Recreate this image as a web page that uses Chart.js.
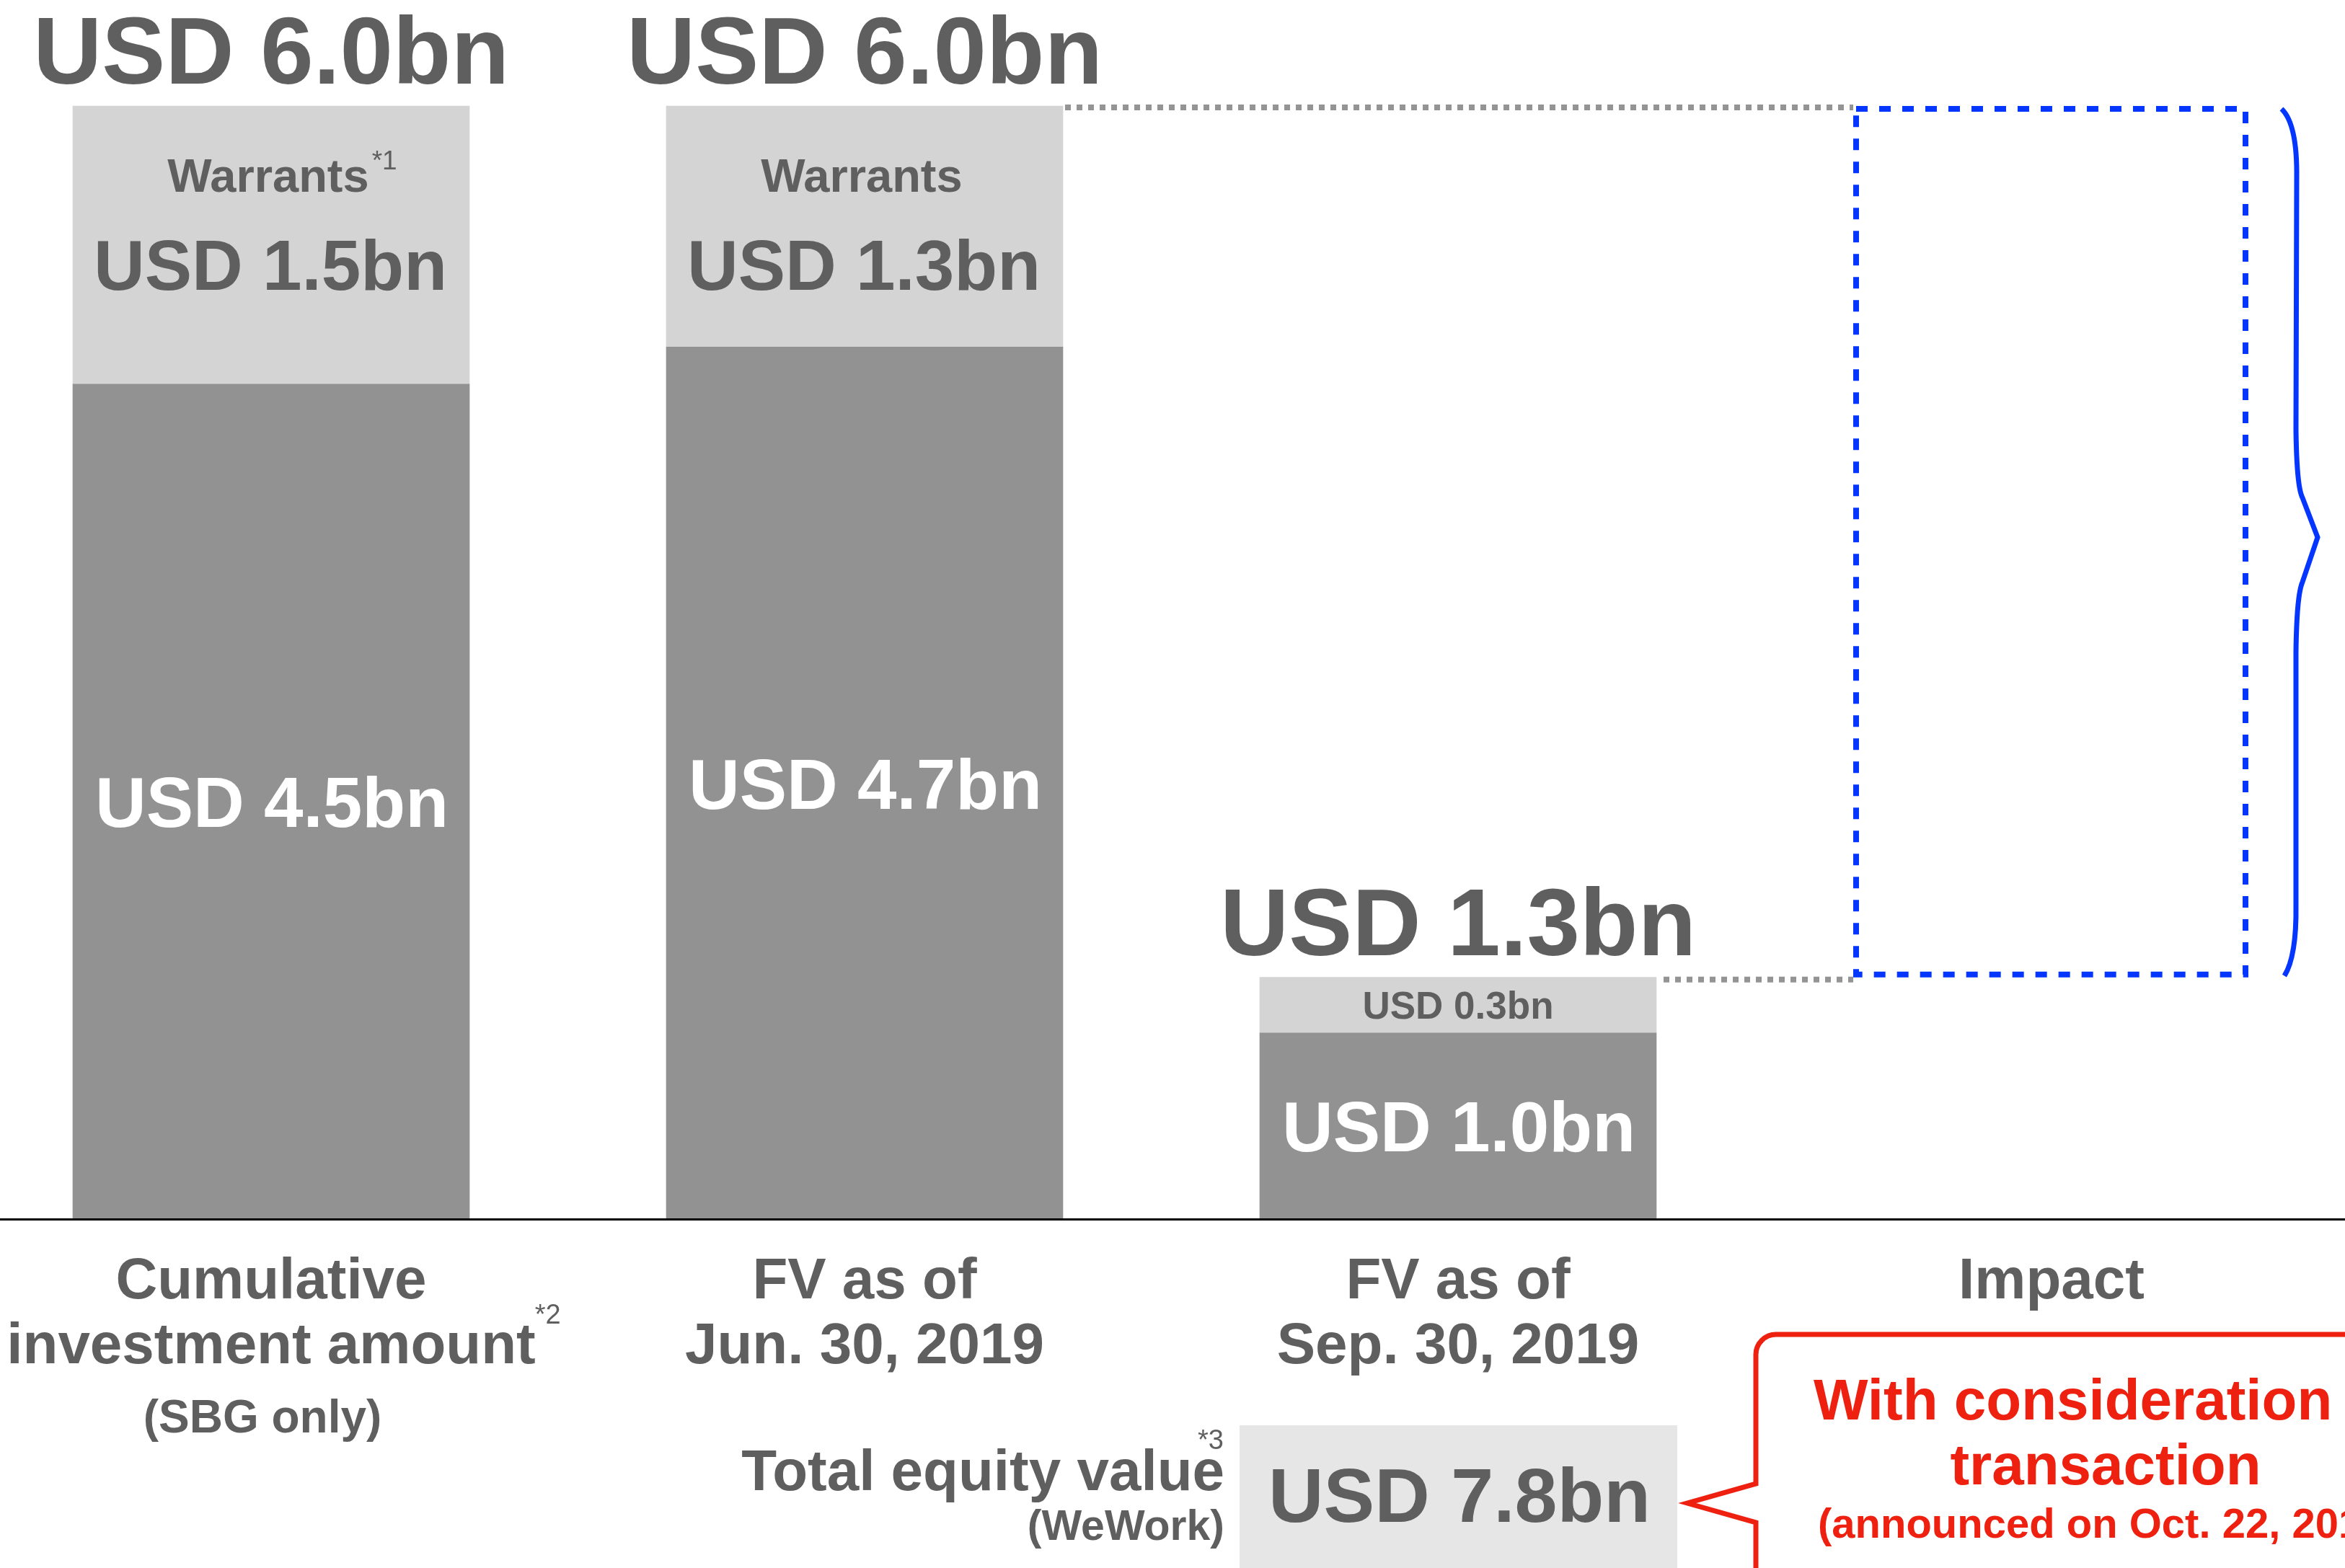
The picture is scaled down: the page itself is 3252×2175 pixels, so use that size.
<!DOCTYPE html>
<html>
<head>
<meta charset="utf-8">
<script src="https://cdn.jsdelivr.net/npm/chart.js@4.4.1/dist/chart.umd.min.js"></script>
<style>
  html, body { margin: 0; padding: 0; background: #ffffff; }
  #wrap { width: 3252px; height: 2175px; position: relative; }
</style>
</head>
<body>
<div id="wrap"><canvas id="c"></canvas></div>
<script>
// ---------------- data ----------------
const categories = [
  ['Cumulative', 'investment amount'],
  ['FV as of', 'Jun. 30, 2019'],
  ['FV as of', 'Sep. 30, 2019'],
  ['Impact']
];
const categoryNotes = ['*2', '', '', ''];
const categorySubLabels = ['(SBG only)', '', '', ''];

const investmentValues = [4.5, 4.7, 1.0];   // dark segment, USD bn
const warrantValues    = [1.5, 1.3, 0.3];   // light segment, USD bn

const totalLabels      = ['USD 6.0bn', 'USD 6.0bn', 'USD 1.3bn'];
const investmentLabels = ['USD 4.5bn', 'USD 4.7bn', 'USD 1.0bn'];
const warrantLabels    = ['USD 1.5bn', 'USD 1.3bn', 'USD 0.3bn'];
const warrantTitles    = ['Warrants', 'Warrants', ''];
const warrantNotes     = ['*1', '', ''];

const totalEquityTitle = 'Total equity value';
const totalEquityNote  = '*3';
const totalEquitySub   = '(WeWork)';
const totalEquityValue = 'USD 7.8bn';

const calloutLines = ['With consideration', 'transaction', '(announced on Oct. 22, 2019)'];

// derived
const r1 = v => Math.round(v * 10) / 10;
const totals = investmentValues.map((v, i) => r1(v + warrantValues[i]));
const impactRange = [totals[2], totals[1]];

// ---------------- styles ----------------
const FAM = '"Liberation Sans", Arial, Helvetica, sans-serif';
const font = (w, s) => `${w} ${s}px ${FAM}`;
const GREY_TEXT = '#5f5f5f';
const DARK = '#929292';
const LIGHT = '#d4d4d4';
const BLUE = '#0536ff';
const RED = '#ee2010';

const overlay = {
  id: 'overlay',
  afterDatasetsDraw(chart) {
    const ctx = chart.ctx;
    const xs = chart.scales.x, ys = chart.scales.y;
    const W = chart.width, H = chart.height;
    const barEl = (ds, i) => chart.getDatasetMeta(ds).data[i].getProps(['x', 'y', 'base', 'width'], true);
    const y0 = ys.getPixelForValue(0);

    ctx.save();

    // ---- dotted connectors ----
    const imp = barEl(2, 3);
    const impLeft = imp.x - imp.width / 2, impRight = imp.x + imp.width / 2;
    const impTop = Math.min(imp.y, imp.base), impBottom = Math.max(imp.y, imp.base);
    ctx.strokeStyle = '#949494';
    ctx.lineWidth = 8;
    ctx.setLineDash([8, 8]);
    const b2 = barEl(1, 1), b3 = barEl(1, 2);
    ctx.beginPath();
    ctx.moveTo(b2.x + b2.width / 2 + 3, ys.getPixelForValue(totals[1]) + 2);
    ctx.lineTo(impLeft, ys.getPixelForValue(totals[1]) + 2);
    ctx.moveTo(b3.x + b3.width / 2 + 10, ys.getPixelForValue(totals[2]) + 3);
    ctx.lineTo(impLeft, ys.getPixelForValue(totals[2]) + 3);
    ctx.stroke();

    // ---- dashed impact box ----
    ctx.strokeStyle = BLUE;
    ctx.lineWidth = 8;
    ctx.setLineDash([16, 16]);
    ctx.strokeRect(impLeft + 4, impTop + 4, imp.width - 10, impBottom - impTop - 8);
    ctx.setLineDash([]);

    // ---- brace ----
    const bx = impRight;
    const mid = (impTop + impBottom) / 2 - 6;
    ctx.lineWidth = 7;
    ctx.lineJoin = 'miter';
    ctx.beginPath();
    ctx.moveTo(bx + 44, impTop + 4);
    ctx.quadraticCurveTo(bx + 66, impTop + 25, bx + 65, impTop + 100);
    ctx.lineTo(bx + 64, mid - 150);
    ctx.quadraticCurveTo(bx + 65, mid - 70, bx + 73, mid - 55);
    ctx.lineTo(bx + 94, mid);
    ctx.lineTo(bx + 73, mid + 62);
    ctx.quadraticCurveTo(bx + 65, mid + 80, bx + 64, mid + 160);
    ctx.lineTo(bx + 64, impBottom - 100);
    ctx.quadraticCurveTo(bx + 65, impBottom - 30, bx + 48, impBottom - 2);
    ctx.stroke();

    // ---- baseline ----
    ctx.strokeStyle = '#000000';
    ctx.lineWidth = 3;
    ctx.beginPath();
    ctx.moveTo(0, y0 + 1.5);
    ctx.lineTo(W, y0 + 1.5);
    ctx.stroke();

    // ---- bar labels ----
    ctx.textBaseline = 'alphabetic';
    for (let i = 0; i < investmentValues.length; i++) {
      const cx = xs.getPixelForValue(i);
      const topPx = ys.getPixelForValue(totals[i]);
      const midPx = ys.getPixelForValue(investmentValues[i]);

      // total above bar
      ctx.fillStyle = GREY_TEXT;
      ctx.textAlign = 'center';
      ctx.font = font('bold', 132);
      ctx.fillText(totalLabels[i], cx, topPx - 31);

      // warrants segment
      if (warrantTitles[i]) {
        ctx.font = font('bold', 65);
        ctx.textAlign = 'center';
        ctx.fillText(warrantTitles[i], cx - 4, topPx + 119);
        if (warrantNotes[i]) {
          const w = ctx.measureText(warrantTitles[i]).width;
          ctx.font = font('normal', 37);
          ctx.textAlign = 'left';
          ctx.fillText(warrantNotes[i], cx - 4 + w / 2 + 4, topPx + 88);
        }
        ctx.font = font('bold', 98);
        ctx.textAlign = 'center';
        ctx.fillText(warrantLabels[i], cx - 1, topPx + 255);
      } else {
        ctx.font = font('bold', 53);
        ctx.textAlign = 'center';
        ctx.fillText(warrantLabels[i], cx, (topPx + midPx) / 2 + 19);
      }

      // investment segment (white)
      ctx.fillStyle = '#ffffff';
      ctx.font = font('bold', 98);
      ctx.textAlign = 'center';
      ctx.fillText(investmentLabels[i], cx + 1, (midPx + y0) / 2 + 36);
    }

    // ---- category labels ----
    ctx.fillStyle = GREY_TEXT;
    for (let i = 0; i < categories.length; i++) {
      const cx = xs.getPixelForValue(i);
      const lines = categories[i];
      ctx.font = font('bold', 80);
      ctx.textAlign = 'center';
      lines.forEach((ln, k) => ctx.fillText(ln, cx, y0 + 111 + k * 90));
      if (categoryNotes[i]) {
        const last = lines[lines.length - 1];
        const w = ctx.measureText(last).width;
        ctx.font = font('normal', 38);
        ctx.textAlign = 'left';
        ctx.fillText(categoryNotes[i], cx + w / 2 - 1, y0 + 146);
      }
      if (categorySubLabels[i]) {
        ctx.font = font('bold', 64);
        ctx.textAlign = 'center';
        ctx.fillText(categorySubLabels[i], cx - 12, y0 + 297);
      }
    }

    // ---- total equity value box ----
    const c3 = xs.getPixelForValue(2);
    ctx.fillStyle = '#e6e6e6';
    ctx.fillRect(c3 - 303, y0 + 287, 607, H - (y0 + 287) + 5);
    ctx.fillStyle = GREY_TEXT;
    ctx.font = font('bold', 106);
    ctx.textAlign = 'center';
    ctx.fillText(totalEquityValue, c3 + 2, y0 + 421);
    const rx = c3 - 324;
    ctx.textAlign = 'right';
    ctx.font = font('bold', 80);
    ctx.fillText(totalEquityTitle, rx, y0 + 377);
    ctx.font = font('normal', 38);
    ctx.fillText(totalEquityNote, rx - 1, y0 + 320);
    ctx.font = font('bold', 59);
    ctx.fillText(totalEquitySub, rx, y0 + 446);

    // ---- red callout ----
    const c4 = xs.getPixelForValue(3);
    const L = c4 - 410, T = y0 + 161, R = 28;
    ctx.strokeStyle = RED;
    ctx.lineWidth = 7;
    ctx.lineJoin = 'miter';
    ctx.beginPath();
    ctx.moveTo(W + 20, T);
    ctx.lineTo(L + R, T);
    ctx.arcTo(L, T, L, T + R, R);
    ctx.lineTo(L, y0 + 368);
    ctx.lineTo(L - 95, y0 + 395);
    ctx.lineTo(L, y0 + 422);
    ctx.lineTo(L, H + 20);
    ctx.stroke();

    ctx.fillStyle = RED;
    ctx.font = font('bold', 80);
    ctx.textAlign = 'left';
    ctx.fillText(calloutLines[0], L + 80, y0 + 279);
    ctx.textAlign = 'center';
    ctx.fillText(calloutLines[1], c4 + 75, y0 + 369);
    ctx.font = font('bold', 58);
    ctx.textAlign = 'left';
    ctx.fillText(calloutLines[2], L + 86, y0 + 443);

    ctx.restore();
  }
};

new Chart(document.getElementById('c'), {
  type: 'bar',
  data: {
    labels: categories,
    datasets: [
      {
        label: 'Investment',
        data: investmentValues.concat([null]),
        backgroundColor: DARK,
        borderWidth: 0,
        grouped: false,
        barThickness: 550,
        clip: false
      },
      {
        label: 'Warrants',
        data: warrantValues.map((v, i) => [investmentValues[i], totals[i]]).concat([null]),
        backgroundColor: LIGHT,
        borderWidth: 0,
        grouped: false,
        barThickness: 550,
        clip: false
      },
      {
        label: 'Impact',
        data: [null, null, null, impactRange],
        backgroundColor: 'rgba(0,0,0,0)',
        borderWidth: 0,
        grouped: false,
        barThickness: 550,
        clip: false
      }
    ]
  },
  options: {
    responsive: true,
    maintainAspectRatio: false,
    animation: false,
    events: [],
    layout: { padding: { top: 147, bottom: 485, left: 376, right: 407 } },
    plugins: { legend: { display: false }, tooltip: { enabled: false } },
    scales: {
      x: { display: false, offset: false },
      y: { display: false, min: 0, max: 6 }
    }
  },
  plugins: [overlay]
});
</script>
</body>
</html>
